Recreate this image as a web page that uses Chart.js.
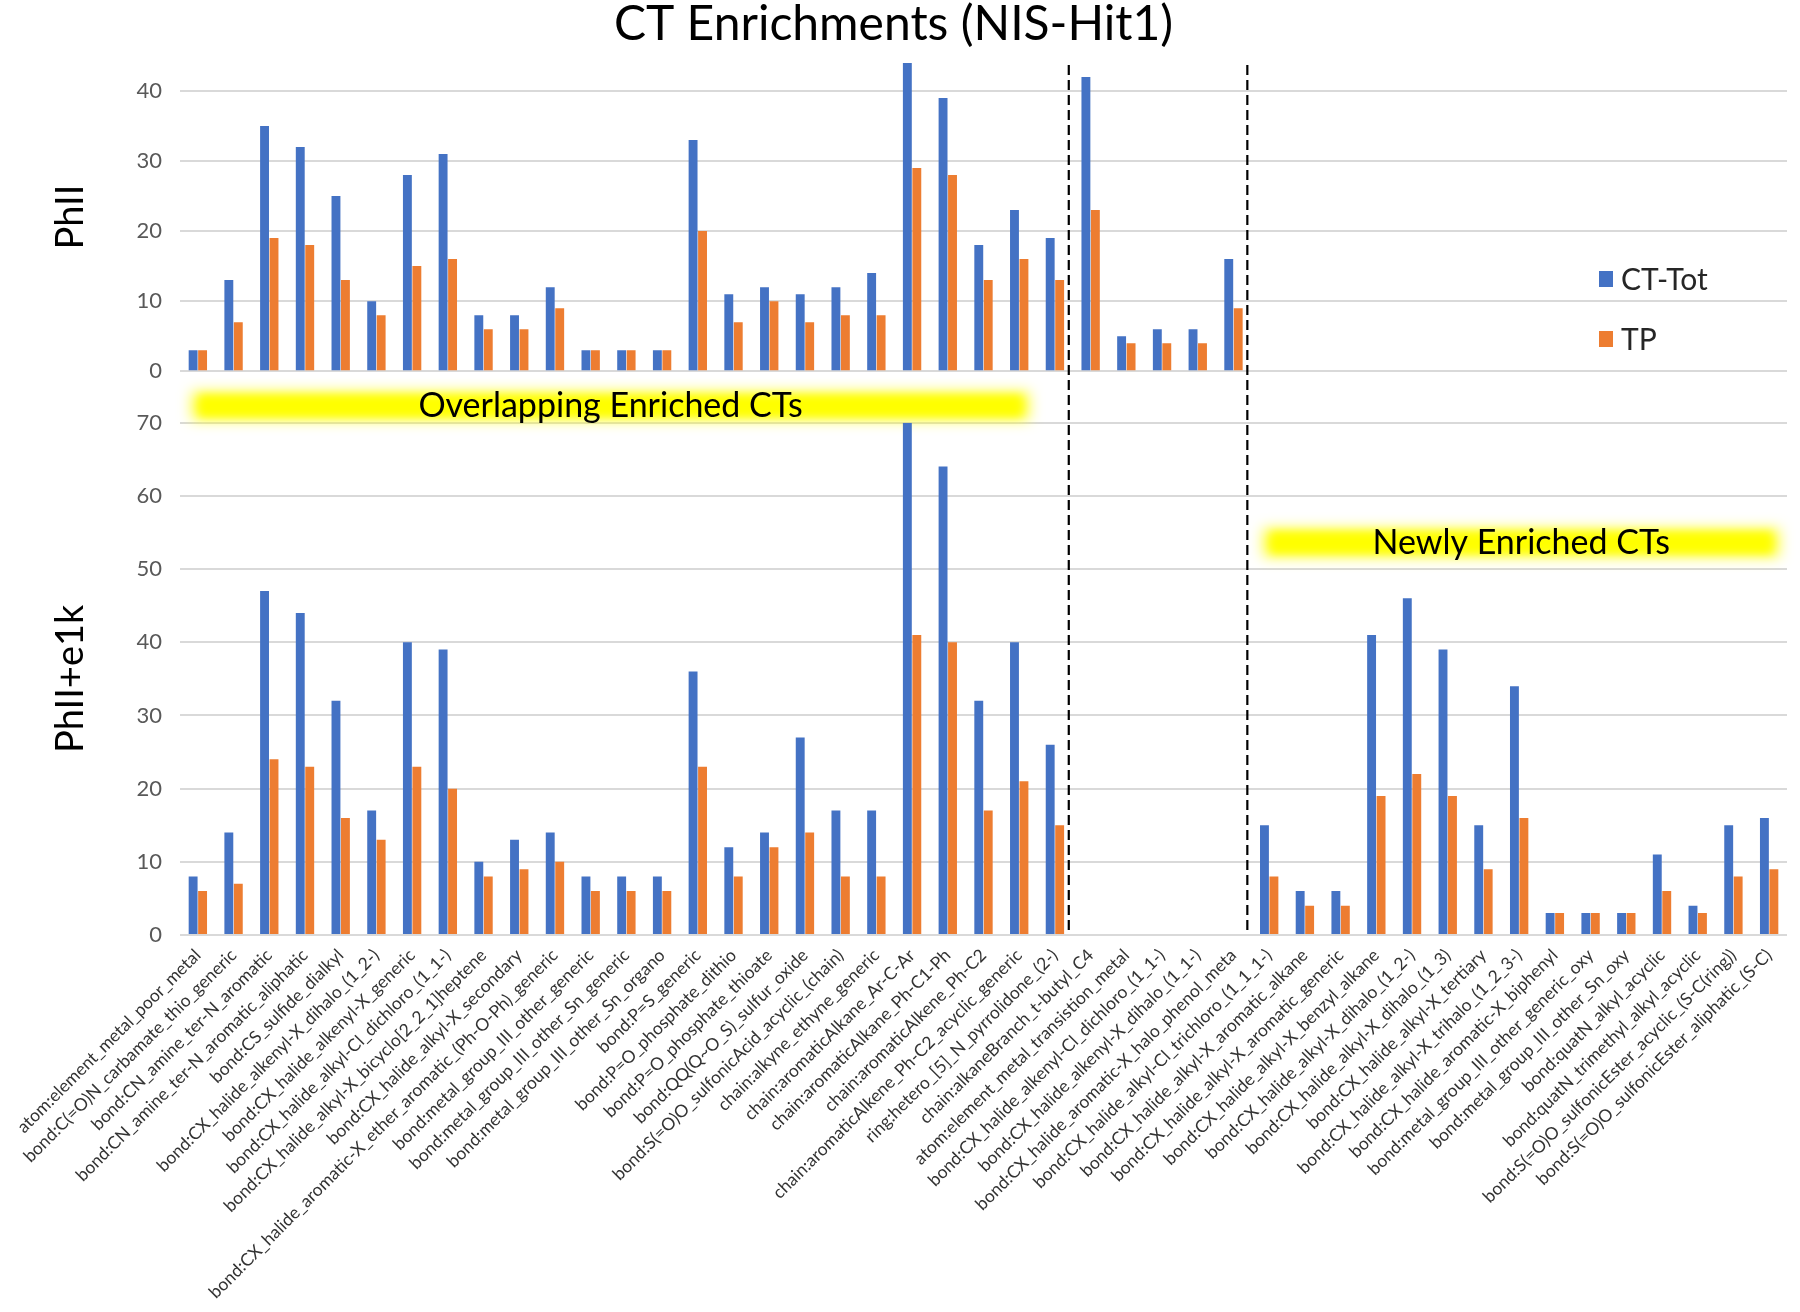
<!DOCTYPE html>
<html>
<head>
<meta charset="utf-8">
<script src="https://cdn.jsdelivr.net/npm/chart.js@4.4.1/dist/chart.umd.min.js"></script>
<style>
html,body{margin:0;padding:0;background:#ffffff;}
#wrap{width:1800px;height:1312px;position:relative;}
</style>
</head>
<body>
<div id="wrap"><canvas id="c" width="1800" height="1312"></canvas></div>
<script>
const categories = [
  "atom:element_metal_poor_metal",
  "bond:C(=O)N_carbamate_thio_generic",
  "bond:CN_amine_ter-N_aromatic",
  "bond:CN_amine_ter-N_aromatic_aliphatic",
  "bond:CS_sulfide_dialkyl",
  "bond:CX_halide_alkenyl-X_dihalo_(1_2-)",
  "bond:CX_halide_alkenyl-X_generic",
  "bond:CX_halide_alkyl-Cl_dichloro_(1_1-)",
  "bond:CX_halide_alkyl-X_bicyclo[2_2_1]heptene",
  "bond:CX_halide_alkyl-X_secondary",
  "bond:CX_halide_aromatic-X_ether_aromatic_(Ph-O-Ph)_generic",
  "bond:metal_group_III_other_generic",
  "bond:metal_group_III_other_Sn_generic",
  "bond:metal_group_III_other_Sn_organo",
  "bond:P=S_generic",
  "bond:P=O_phosphate_dithio",
  "bond:P=O_phosphate_thioate",
  "bond:QQ(Q~O_S)_sulfur_oxide",
  "bond:S(=O)O_sulfonicAcid_acyclic_(chain)",
  "chain:alkyne_ethyne_generic",
  "chain:aromaticAlkane_Ar-C-Ar",
  "chain:aromaticAlkane_Ph-C1-Ph",
  "chain:aromaticAlkene_Ph-C2",
  "chain:aromaticAlkene_Ph-C2_acyclic_generic",
  "ring:hetero_[5]_N_pyrrolidone_(2-)",
  "chain:alkaneBranch_t-butyl_C4",
  "atom:element_metal_transistion_metal",
  "bond:CX_halide_alkenyl-Cl_dichloro_(1_1-)",
  "bond:CX_halide_alkenyl-X_dihalo_(1_1-)",
  "bond:CX_halide_aromatic-X_halo_phenol_meta",
  "bond:CX_halide_alkyl-Cl_trichloro_(1_1_1-)",
  "bond:CX_halide_alkyl-X_aromatic_alkane",
  "bond:CX_halide_alkyl-X_aromatic_generic",
  "bond:CX_halide_alkyl-X_benzyl_alkane",
  "bond:CX_halide_alkyl-X_dihalo_(1_2-)",
  "bond:CX_halide_alkyl-X_dihalo_(1_3)",
  "bond:CX_halide_alkyl-X_tertiary",
  "bond:CX_halide_alkyl-X_trihalo_(1_2_3-)",
  "bond:CX_halide_aromatic-X_biphenyl",
  "bond:metal_group_III_other_generic_oxy",
  "bond:metal_group_III_other_Sn_oxy",
  "bond:quatN_alkyl_acyclic",
  "bond:quatN_trimethyl_alkyl_acyclic",
  "bond:S(=O)O_sulfonicEster_acyclic_(S-C(ring))",
  "bond:S(=O)O_sulfonicEster_aliphatic_(S-C)"
];

// PhII panel (categories 31-45 have no value)
const phiiCtTot = [3,13,35,32,25,10,28,31,8,8,12,3,3,3,33,11,12,11,12,14,44,39,18,23,19,42,5,6,6,16,
  null,null,null,null,null,null,null,null,null,null,null,null,null,null,null];
const phiiTP = [3,7,19,18,13,8,15,16,6,6,9,3,3,3,20,7,10,7,8,8,29,28,13,16,13,23,4,4,4,9,
  null,null,null,null,null,null,null,null,null,null,null,null,null,null,null];

// PhII+e1k panel (categories 26-30 have no value)
const e1kCtTot = [8,14,47,44,32,17,40,39,10,13,14,8,8,8,36,12,14,27,17,17,70,64,32,40,26,
  null,null,null,null,null,15,6,6,41,46,39,15,34,3,3,3,11,4,15,16];
const e1kTP = [6,7,24,23,16,13,23,20,8,9,10,6,6,6,23,8,12,14,8,8,41,40,17,21,15,
  null,null,null,null,null,8,4,4,19,22,19,9,16,3,3,3,6,3,8,9];

const seriesNames = ["CT-Tot", "TP"];
const panelTitles = ["PhII", "PhII+e1k"];
const topTicks = [0,10,20,30,40];
const bottomTicks = [0,10,20,30,40,50,60,70];
const sectionBreaks = [25, 30];   // dashed lines after these category counts
const annotations = [
  {text: "Overlapping Enriched CTs", from: 0, to: 23},
  {text: "Newly Enriched CTs", from: 30, to: 44, value: 53.6}
];

const BLUE = "#4472C4", ORANGE = "#ED7D31";
const FONT = "Lato, 'Open Sans', 'DejaVu Sans', sans-serif";

const decorPlugin = {
  id: "decor",
  beforeDatasetsDraw(chart) {
    const ctx = chart.ctx;
    const x = chart.scales.x, yT = chart.scales.yTop, yB = chart.scales.yBot;
    annotations.forEach(a => {
      const left = x.getPixelForValue(a.from) - 10;
      const right = x.getPixelForValue(a.to) + 14;
      const cy = (a.value === undefined) ? (yT.bottom + yB.top) / 2 + 9 : yB.getPixelForValue(a.value);
      const h = 32;
      ctx.save();
      ctx.filter = "blur(7px)";
      ctx.fillStyle = "#FFFF30";
      ctx.fillRect(left + 4, cy - h / 2 + 2, right - left - 8, h - 4);
      ctx.restore();
      ctx.save();
      ctx.filter = "blur(4px)";
      ctx.fillStyle = "#FFFF00";
      ctx.fillRect(left + 12, cy - h / 2 + 6, right - left - 24, h - 12);
      ctx.restore();
      a._cx = (left + right) / 2; a._cy = cy;
    });
  },
  afterDatasetsDraw(chart) {
    const ctx = chart.ctx;
    const x = chart.scales.x, yT = chart.scales.yTop, yB = chart.scales.yBot;
    ctx.save();
    ctx.fillStyle = "#000000";
    ctx.font = "34px " + FONT;
    ctx.textAlign = "center";
    ctx.textBaseline = "middle";
    annotations.forEach(a => ctx.fillText(a.text, a._cx, a._cy));
    ctx.restore();
    ctx.save();
    ctx.strokeStyle = "#000000";
    ctx.lineWidth = 2.2;
    ctx.setLineDash([10, 5]);
    sectionBreaks.forEach(b => {
      const px = (x.getPixelForValue(b - 1) + x.getPixelForValue(b)) / 2 - 4;
      ctx.beginPath();
      ctx.moveTo(px, yT.top + 2);
      ctx.lineTo(px, yB.bottom);
      ctx.stroke();
    });
    ctx.restore();
    ctx.save();
    const lx = chart.chartArea.right - 188;
    const ly = [yT.top + 216, yT.top + 276];
    [0, 1].forEach(i => {
      ctx.fillStyle = chart.data.datasets[i].backgroundColor;
      ctx.fillRect(lx, ly[i] - 8, 14, 16);
      ctx.fillStyle = "#262626";
      ctx.font = "30px " + FONT;
      ctx.textAlign = "left";
      ctx.textBaseline = "middle";
      ctx.fillText(seriesNames[i], lx + 22, ly[i] + 1);
    });
    ctx.restore();
  }
};

const setTicks = list => scale => { scale.ticks = list.map(v => ({value: v})); };

const yCommon = (title, max, ticks, weight, stackWeight) => ({
  type: "linear",
  position: "left",
  stack: "panels",
  stackWeight: stackWeight,
  weight: weight,
  stacked: false,
  min: 0,
  max: max,
  ticks: {stepSize: 10, color: "#595959", padding: 18, font: {size: 22, family: FONT}},
  afterBuildTicks: setTicks(ticks),
  grid: {color: "#D9D9D9", lineWidth: 2, drawTicks: false},
  border: {display: false},
  title: {display: true, text: title, color: "#000000", font: {size: 38, family: FONT}, padding: {top: 48, bottom: 10}},
  afterFit: s => { s.width = 180; }
});

new Chart(document.getElementById("c"), {
  type: "bar",
  data: {
    labels: categories,
    datasets: [
      {label: seriesNames[0], data: phiiCtTot, backgroundColor: BLUE, yAxisID: "yTop", stack: "s0"},
      {label: seriesNames[1], data: phiiTP, backgroundColor: ORANGE, yAxisID: "yTop", stack: "s1"},
      {label: seriesNames[0] + " ", data: e1kCtTot, backgroundColor: BLUE, yAxisID: "yBot", stack: "s0"},
      {label: seriesNames[1] + " ", data: e1kTP, backgroundColor: ORANGE, yAxisID: "yBot", stack: "s1"}
    ]
  },
  options: {
    responsive: false,
    animation: false,
    devicePixelRatio: 1,
    categoryPercentage: 0.53,
    barPercentage: 0.94,
    layout: {padding: {left: 0, right: 13, top: 0, bottom: 0}},
    plugins: {
      legend: {display: false},
      tooltip: {enabled: false},
      title: {
        display: true,
        text: "CT Enrichments (NIS-Hit1)",
        color: "#000000",
        font: {size: 48, family: FONT, weight: "normal", lineHeight: 1},
        padding: {top: 1, bottom: 14}
      }
    },
    scales: {
      x: {
        type: "category",
        grid: {display: false, drawTicks: false},
        border: {display: false},
        ticks: {autoSkip: false, minRotation: 45, maxRotation: 45, padding: 10,
                color: "#333333", font: {size: 17.5, family: FONT}},
        afterFit: s => { s.height = 377; }
      },
      yTop: yCommon(panelTitles[0], 44, topTicks, 3, 308),
      yGap: {
        type: "linear", position: "left", stack: "panels", stackWeight: 51.5, weight: 2,
        min: 0, max: 1,
        grid: {display: false, drawTicks: false}, border: {display: false},
        ticks: {display: false},
        afterFit: s => { s.width = 180; }
      },
      yBot: yCommon(panelTitles[1], 70, bottomTicks, 1, 512)
    }
  },
  plugins: [decorPlugin]
});
</script>
</body>
</html>
